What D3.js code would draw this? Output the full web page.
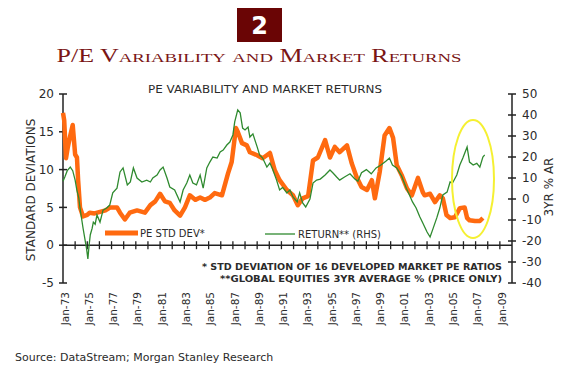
<!DOCTYPE html>
<html>
<head>
<meta charset="utf-8">
<script src="https://cdn.jsdelivr.net/npm/d3@7"></script>
<style>
  body { margin: 0; background: #fff; }
  svg text { font-family: "DejaVu Sans", Verdana, sans-serif; fill: #2b2b2b; }
</style>
</head>
<body>
<svg id="chart" width="570" height="370"></svg>
<script>
// PE std dev (left axis) as [decimal year]
const peYears = [1973.0, 1973.1, 1973.25, 1973.4, 1973.6, 1973.8, 1974.0, 1974.15, 1974.25, 1974.4, 1974.65,
  1975.0, 1975.2, 1975.6, 1976.05, 1976.5, 1976.9, 1977.45, 1977.7, 1978.1, 1978.5, 1979.1, 1979.75,
  1980.2, 1980.6, 1981.0, 1981.4, 1981.8, 1982.2, 1982.65, 1983.05, 1983.45, 1983.9, 1984.3, 1984.7,
  1985.1, 1985.5, 1986.1, 1986.6, 1986.9, 1987.25, 1987.4, 1987.75, 1988.15, 1988.4, 1989.0, 1989.45,
  1990.05, 1990.45, 1990.85, 1991.45, 1991.95, 1992.35, 1992.75, 1993.2, 1993.6, 1994.0, 1994.6,
  1995.0, 1995.4, 1995.8, 1996.4, 1996.8, 1997.2, 1997.6, 1998.05, 1998.45, 1998.7, 1999.1, 1999.5,
  1999.9, 2000.2, 2000.5, 2000.9, 2001.35, 2001.75, 2002.25, 2002.65, 2002.8, 2003.25, 2003.65,
  2004.05, 2004.3, 2004.6, 2004.9, 2005.3, 2005.7, 2006.1, 2006.3, 2006.5, 2006.95, 2007.35, 2007.6];
const peValues = [17.5, 16.5, 11.5, 13.0, 14.5, 15.9, 12.0, 11.6, 8.5, 5.0, 3.8,
  4.0, 4.3, 4.2, 4.4, 4.6, 5.0, 5.0, 4.3, 3.4, 4.3, 4.6, 4.3,
  5.3, 5.8, 6.8, 5.8, 5.6, 4.6, 3.9, 5.0, 6.6, 6.0, 6.3, 6.0,
  6.3, 6.9, 6.6, 9.5, 11.0, 15.5, 15.0, 13.5, 13.2, 12.3, 11.9, 11.5,
  12.2, 9.9, 8.6, 7.3, 6.6, 5.3, 6.2, 6.5, 11.2, 11.6, 13.9,
  11.6, 13.0, 12.3, 13.2, 10.8, 9.0, 7.7, 7.3, 8.6, 6.2, 9.7, 14.5,
  15.5, 14.2, 10.6, 9.3, 7.5, 6.6, 8.9, 7.0, 6.6, 6.8, 5.7,
  6.6, 6.2, 4.0, 3.6, 3.7, 4.9, 5.0, 3.6, 3.3, 3.2, 3.2, 3.6];

// global equities 3yr average return % (right axis)
const retYears = [1973.0, 1973.15, 1973.35, 1973.6, 1973.8, 1974.0, 1974.15, 1974.3, 1974.4, 1974.65, 1974.95,
  1975.05, 1975.15, 1975.25, 1975.4, 1975.5, 1975.65, 1975.8, 1976.05, 1976.3, 1976.6, 1976.85,
  1977.1, 1977.45, 1977.7, 1977.95, 1978.3, 1978.55, 1978.8, 1979.1, 1979.5, 1979.9, 1980.2, 1980.4,
  1980.75, 1981.0, 1981.25, 1981.57, 1981.8, 1982.2, 1982.65, 1982.9, 1983.2, 1983.45, 1983.7, 1984.0,
  1984.3, 1984.55, 1984.85, 1985.1, 1985.35, 1985.7, 1985.95, 1986.2, 1986.5, 1986.75, 1987.0, 1987.15,
  1987.4, 1987.6, 1987.8, 1988.0, 1988.25, 1988.4, 1988.65, 1989.0, 1989.2, 1989.45, 1989.8, 1990.05,
  1990.3, 1990.6, 1990.85, 1991.1, 1991.45, 1991.7, 1991.95, 1992.3, 1992.5, 1992.75, 1993.0, 1993.35,
  1993.6, 1993.9, 1994.2, 1994.6, 1995.0, 1995.25, 1995.55, 1995.8, 1996.2, 1996.65, 1997.05, 1997.3,
  1997.6, 1998.0, 1998.4, 1998.8, 1999.2, 1999.6, 1999.9, 2000.15, 2000.5, 2000.9, 2001.3, 2001.55,
  2001.8, 2002.1, 2002.4, 2002.65, 2003.0, 2003.25, 2003.5, 2003.8, 2004.05, 2004.3, 2004.65, 2004.9,
  2005.1, 2005.45, 2005.7, 2005.95, 2006.3, 2006.5, 2006.8, 2007.1, 2007.35, 2007.6, 2007.75];
const retValues = [8.5, 10.5, 13.5, 15.2, 13.5, 9.0, 4.0, 0.5, -4.3, -13.8, -24,
  -28.5, -22, -17, -14, -11, -12, -7.6, -11, -5.3, -4.3, -2.9,
  2.9, 5.2, 12.9, 14.8, 6.7, 8.1, 14.8, 10, 8.1, 9.0, 8.1, 10,
  11.4, 13.8, 15.2, 10, 5.7, 4.3, -1.4, 4.3, 7.6, 11.4, 7.6, 6.7,
  11.4, 5.2, 14.8, 17.6, 20, 19.5, 22.4, 23.3, 25.7, 27.1, 30.5, 36.7,
  42.4, 41, 33.8, 32.9, 34.3, 29.5, 31, 24.8, 21, 19.5, 15.2, 17.1,
  13.8, 9, 4.3, 5.5, 2.9, 4.3, 1.0, -1.4, 2.9, -1.9, -3.8, 0,
  7.6, 9, 9.5, 11.4, 13.8, 12.4, 10.5, 9.0, 10.5, 12, 9.5, 8.5,
  12.5, 14, 12, 14.8, 16.2, 18, 19.5, 16.2, 14.8, 11, 5, 1.9,
  -1.4, -4.3, -8.5, -11.4, -15.7, -18.1, -14, -9, -4.3, 1.9, 3.3, 8.1,
  7.6, 11.4, 16.2, 19.5, 24.8, 17.6, 16.2, 17, 15.2, 20, 21];

const leftTicks = [20, 15, 10, 5, 0, -5];
const rightTicks = [50, 40, 30, 20, 10, 0, -10, -20, -30, -40];
const labelYears = d3.range(1973, 2010, 2);

const svg = d3.select("#chart");

const x = d3.scaleLinear().domain([1973, 2010]).range([63, 512]);
const yL = d3.scaleLinear().domain([-5, 20]).range([283, 94]);
const yR = d3.scaleLinear().domain([-40, 50]).range([283, 94]);

// header box + title
const header = svg.append("g");
header.append("rect").attr("x", 237).attr("y", 8).attr("width", 45).attr("height", 34).attr("fill", "#6a0505");
header.append("text").attr("x", 259.5).attr("y", 34).attr("text-anchor", "middle")
    .style("font-size", "24px").style("font-weight", "bold").style("fill", "#fff").text("2");
header.append("text").attr("x", 259).attr("y", 62).attr("text-anchor", "middle")
    .attr("textLength", 405).attr("lengthAdjust", "spacingAndGlyphs")
    .style("font-family", "'Liberation Serif', 'DejaVu Serif', serif")
    .style("font-variant", "small-caps").style("font-size", "18px").style("fill", "#7a1515")
    .text("P/E Variability and Market Returns");

svg.append("text").attr("x", 265).attr("y", 93).attr("text-anchor", "middle")
    .attr("textLength", 234).attr("lengthAdjust", "spacingAndGlyphs")
    .style("font-size", "10px").text("PE VARIABILITY AND MARKET RETURNS");

// left axis
svg.append("line").attr("x1", 63).attr("x2", 63).attr("y1", yL(20)).attr("y2", yL(-5))
    .attr("stroke", "#222").attr("stroke-width", 1.5);
svg.selectAll(".ltick").data(leftTicks).join("line")
    .attr("x1", 59).attr("x2", 67).attr("y1", d => yL(d)).attr("y2", d => yL(d))
    .attr("stroke", "#222").attr("stroke-width", 1.5);
svg.selectAll(".llab").data(leftTicks).join("text")
    .attr("x", 54).attr("y", d => yL(d)).attr("dy", "0.35em").attr("text-anchor", "end")
    .style("font-size", "12px").text(d => d);
svg.append("text").attr("transform", "translate(35,190) rotate(-90)").attr("text-anchor", "middle")
    .style("font-size", "12px").text("STANDARD DEVIATIONS");

// right axis
svg.append("line").attr("x1", 512).attr("x2", 512).attr("y1", yR(50)).attr("y2", yR(-40))
    .attr("stroke", "#222").attr("stroke-width", 1.5);
svg.selectAll(".rtick").data(rightTicks).join("line")
    .attr("x1", 508).attr("x2", 516).attr("y1", d => yR(d)).attr("y2", d => yR(d))
    .attr("stroke", "#222").attr("stroke-width", 1.5);
svg.selectAll(".rlab").data(rightTicks).join("text")
    .attr("x", 522).attr("y", d => yR(d)).attr("dy", "0.35em")
    .style("font-size", "12px").text(d => d);
svg.append("text").attr("transform", "translate(553,187) rotate(-90)").attr("text-anchor", "middle")
    .style("font-size", "12px").text("3YR % AR");

// x axis on the zero line
const y0 = yL(0);
svg.append("line").attr("x1", 63).attr("x2", 512).attr("y1", y0).attr("y2", y0)
    .attr("stroke", "#222").attr("stroke-width", 1.5);
svg.selectAll(".xtick").data(d3.range(1974, 2010)).join("line")
    .attr("x1", d => x(d)).attr("x2", d => x(d)).attr("y1", y0 - 4).attr("y2", y0 + 4)
    .attr("stroke", "#222").attr("stroke-width", 1.3);
svg.selectAll(".xlab").data(labelYears).join("text")
    .attr("transform", d => `translate(${x(d) + 2},292) rotate(-90)`)
    .attr("dy", "0.35em").attr("text-anchor", "end")
    .style("font-size", "10.5px").text(d => "Jan-" + String(d).slice(2));

// series
const peData = peYears.map((d, i) => [d, peValues[i]]);
const retData = retYears.map((d, i) => [d, retValues[i]]);

svg.append("path").datum(peData)
    .attr("d", d3.line().x(d => x(d[0])).y(d => yL(d[1])))
    .attr("fill", "none").attr("stroke", "#ff6a10").attr("stroke-width", 4.5)
    .attr("stroke-linejoin", "round");
svg.append("path").datum(retData)
    .attr("d", d3.line().x(d => x(d[0])).y(d => yR(d[1])))
    .attr("fill", "none").attr("stroke", "#2f8a2f").attr("stroke-width", 1.3);

// highlight ellipse
svg.append("ellipse").attr("cx", 473).attr("cy", 179).attr("rx", 21).attr("ry", 59)
    .attr("fill", "none").attr("stroke", "#f5f032").attr("stroke-width", 2);

// legend
svg.append("line").attr("x1", 105).attr("x2", 138).attr("y1", 233).attr("y2", 233)
    .attr("stroke", "#ff6a10").attr("stroke-width", 5);
svg.append("text").attr("x", 140).attr("y", 237).style("font-size", "10px").text("PE STD DEV*");
svg.append("line").attr("x1", 265).attr("x2", 295).attr("y1", 234).attr("y2", 234)
    .attr("stroke", "#2f8a2f").attr("stroke-width", 1.3);
svg.append("text").attr("x", 298).attr("y", 238).style("font-size", "10px").text("RETURN** (RHS)");

// notes
svg.append("text").attr("x", 502).attr("y", 270).attr("text-anchor", "end")
    .attr("textLength", 300).attr("lengthAdjust", "spacingAndGlyphs")
    .style("font-size", "9px").style("font-weight", "bold")
    .text("* STD DEVIATION OF 16 DEVELOPED MARKET PE RATIOS");
svg.append("text").attr("x", 502).attr("y", 282).attr("text-anchor", "end")
    .attr("textLength", 282).attr("lengthAdjust", "spacingAndGlyphs")
    .style("font-size", "9px").style("font-weight", "bold")
    .text("**GLOBAL EQUITIES  3YR AVERAGE % (PRICE ONLY)");

svg.append("text").attr("x", 15).attr("y", 361).style("font-size", "11px")
    .text("Source: DataStream; Morgan Stanley Research");
</script>
</body>
</html>
